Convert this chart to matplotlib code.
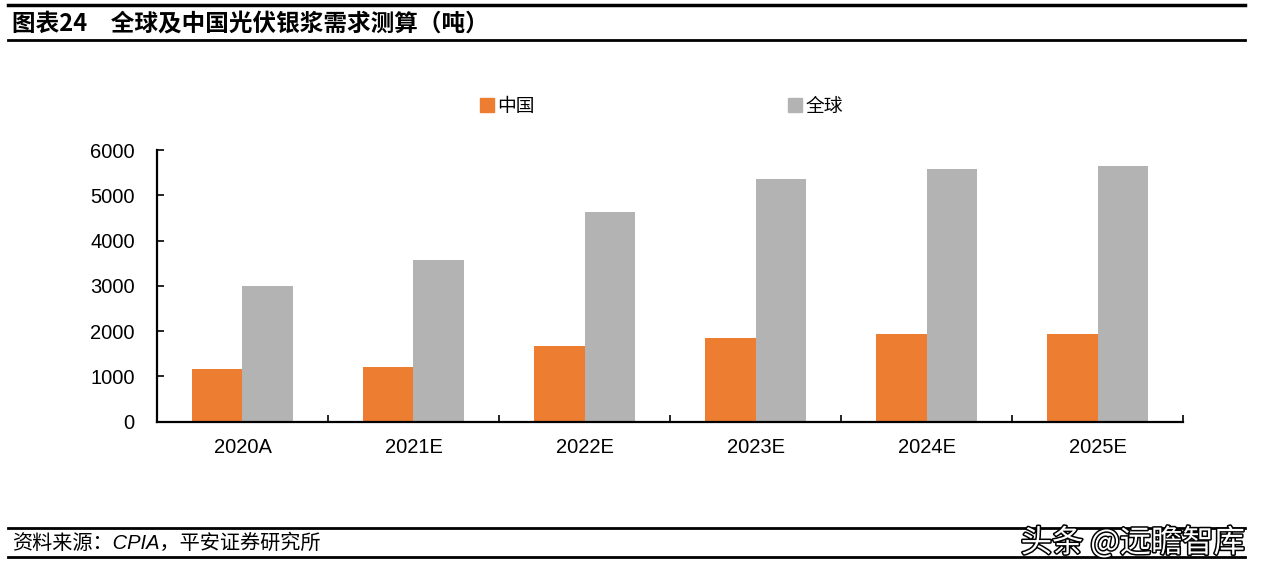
import matplotlib
matplotlib.use("Agg")
import matplotlib.pyplot as plt
import matplotlib.patheffects as pe
from matplotlib.lines import Line2D
from matplotlib.patches import Patch
import numpy as np

plt.rcParams["font.family"] = ["Liberation Sans", "Noto Sans CJK SC", "DejaVu Sans"]

# ── data (吨) ──────────────────────────────────────────────
years = ["2020A", "2021E", "2022E", "2023E", "2024E", "2025E"]
china = [1170, 1210, 1670, 1840, 1930, 1930]
world = [3000, 3580, 4620, 5360, 5570, 5650]
series_names = ["中国", "全球"]
colors = ["#ED7D31", "#B3B3B3"]

title = "图表24　全球及中国光伏银浆需求测算（吨）"
source = "资料来源：CPIA，平安证券研究所"
watermark = "头条 @远瞻智库"

# ── figure ─────────────────────────────────────────────────
fig = plt.figure(figsize=(12.65, 5.77), dpi=100)
ax = fig.add_axes([0.1241, 0.2692, 0.8111, 0.4708])

x = np.arange(len(years))
w = 0.295
ax.bar(x - w / 2, china, width=w, color=colors[0], label=series_names[0])
ax.bar(x + w / 2, world, width=w, color=colors[1], label=series_names[1])

ax.set_xlim(-0.5, len(years) - 0.5)
ax.set_ylim(0, 6000)
ax.set_yticks(range(0, 6001, 1000))
ax.set_xticks(x)
ax.set_xticklabels(years)
ax.set_xticks(np.arange(-0.5, len(years)), minor=True)

for s in ["top", "right"]:
    ax.spines[s].set_visible(False)
for s in ["left", "bottom"]:
    ax.spines[s].set_linewidth(1.6)
    ax.spines[s].set_color("black")

ax.tick_params(axis="y", direction="in", length=5, width=1.2, labelsize=14.5, pad=16)
ax.tick_params(axis="x", which="major", length=0, labelsize=14.5, pad=12)
ax.tick_params(axis="x", which="minor", direction="in", length=5, width=1.2)

handles = [Patch(color=colors[0]), Patch(color=colors[1])]
fig.legend(handles, series_names, ncol=2, loc="center", bbox_to_anchor=(0.523, 0.816),
           frameon=False, handlelength=0.75, handleheight=0.75,
           handletextpad=0.2, columnspacing=13.5,
           prop={"family": ["Noto Sans CJK SC", "DejaVu Sans"], "size": 13.5})

# ── header / footer ─────────────────────────────────────────
fig.text(0.0095, 0.957, title, fontsize=17, fontweight="bold", va="center", ha="left",
         family=["Noto Sans CJK SC", "DejaVu Sans"])
fig.add_artist(Line2D([0.006, 0.984], [0.991, 0.991], color="black", lw=2.5))
fig.add_artist(Line2D([0.006, 0.984], [0.931, 0.931], color="black", lw=2.0))

fig.add_artist(Line2D([0.006, 0.984], [0.085, 0.085], color="black", lw=2.0))
fig.add_artist(Line2D([0.006, 0.984], [0.035, 0.035], color="black", lw=2.0))
fig.text(0.0095, 0.059, source, fontsize=14.5, style="italic", va="center", ha="left",
         family=["Liberation Sans", "Noto Sans CJK SC", "DejaVu Sans"])
fig.text(0.984, 0.059, watermark, fontsize=22.5, color="white", va="center", ha="right",
         family=["Noto Sans CJK SC", "DejaVu Sans"],
         path_effects=[pe.withStroke(linewidth=2.2, foreground="black")])

fig.savefig("out.png", dpi=100)
